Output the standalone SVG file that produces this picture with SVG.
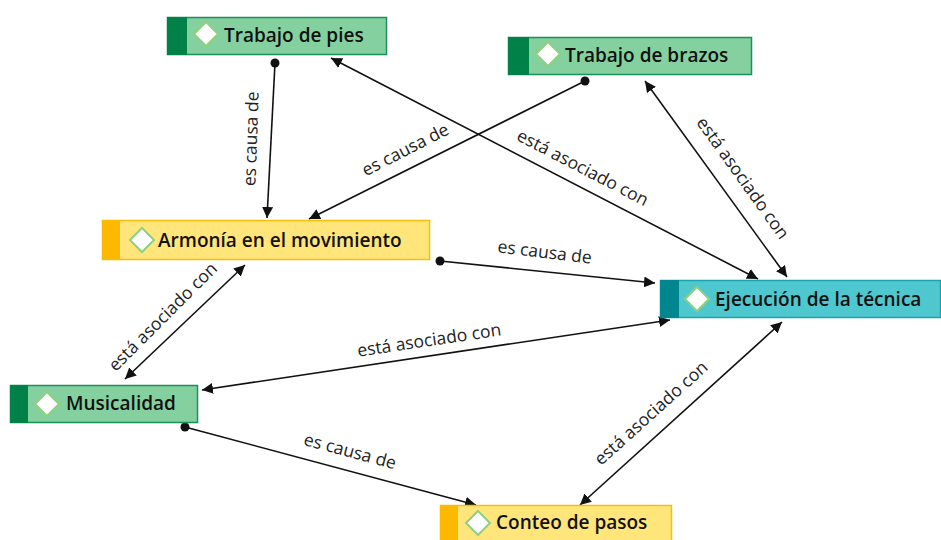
<svg xmlns="http://www.w3.org/2000/svg" width="941" height="540" viewBox="0 0 941 540">
<style>
.node text{font-family:"Open Sans","Noto Sans",sans-serif;font-weight:600;font-size:19px;fill:#111}
.lbl{font-family:"Open Sans","Noto Sans",sans-serif;font-size:17.5px;fill:#222}
.green .box{fill:#84d19f;stroke:#1b9159;stroke-width:1.5}
.green .strip{fill:#008148}
.yellow .box{fill:#ffe57a;stroke:#f7bf0c;stroke-width:1.5}
.yellow .strip{fill:#fdb900}
.cyan .box{fill:#4fc7cf;stroke:#1aa5ad;stroke-width:1.5}
.cyan .strip{fill:#00868e}
.dia{fill:#fff;stroke:#8ed080;stroke-width:2}
.edge{stroke:#111;stroke-width:1.6;fill:none}
</style>
<defs>
<marker id="arr" viewBox="0 0 10 10" refX="10" refY="5" markerWidth="11" markerHeight="11" markerUnits="userSpaceOnUse" orient="auto-start-reverse">
<path d="M0,0 L10,5 L0,10 z" fill="#111"/>
</marker>
<marker id="dot" viewBox="0 0 10 10" refX="5" refY="5" markerWidth="10" markerHeight="10" markerUnits="userSpaceOnUse">
<circle cx="5" cy="5" r="4.5" fill="#111"/>
</marker>
</defs>

<g id="connectors">
<line class="edge" x1="275" y1="63" x2="267" y2="218" marker-start="url(#dot)" marker-end="url(#arr)"/>
<text class="lbl" transform="translate(257,139) rotate(-88)" text-anchor="middle">es causa de</text>

<line class="edge" x1="585" y1="81" x2="309" y2="219" marker-start="url(#dot)" marker-end="url(#arr)"/>
<text class="lbl" transform="translate(408,155) rotate(-27)" text-anchor="middle">es causa de</text>

<line class="edge" x1="331" y1="58" x2="758" y2="279" marker-start="url(#arr)" marker-end="url(#arr)"/>
<text class="lbl" transform="translate(580,173) rotate(27.4)" text-anchor="middle">está asociado con</text>

<line class="edge" x1="645" y1="81" x2="787" y2="277" marker-start="url(#arr)" marker-end="url(#arr)"/>
<text class="lbl" transform="translate(738,181.5) rotate(54.5)" text-anchor="middle">está asociado con</text>

<line class="edge" x1="440" y1="261" x2="655" y2="283" marker-start="url(#dot)" marker-end="url(#arr)"/>
<text class="lbl" transform="translate(544,258) rotate(7)" text-anchor="middle">es causa de</text>

<line class="edge" x1="245" y1="265" x2="125" y2="379" marker-start="url(#arr)" marker-end="url(#arr)"/>
<text class="lbl" transform="translate(167,321) rotate(-45)" text-anchor="middle">está asociado con</text>

<line class="edge" x1="670" y1="320" x2="202" y2="390" marker-start="url(#arr)" marker-end="url(#arr)"/>
<text class="lbl" transform="translate(430,346) rotate(-8.5)" text-anchor="middle">está asociado con</text>

<line class="edge" x1="185" y1="427" x2="476" y2="505" marker-start="url(#dot)" marker-end="url(#arr)"/>
<text class="lbl" transform="translate(348.5,457) rotate(15)" text-anchor="middle">es causa de</text>

<line class="edge" x1="782" y1="322" x2="580" y2="505" marker-start="url(#arr)" marker-end="url(#arr)"/>
<text class="lbl" transform="translate(655,417.5) rotate(-42)" text-anchor="middle">está asociado con</text>
</g>

<g id="n-pies" class="node green">
<rect class="box" x="167.5" y="17.5" width="219" height="37"/>
<rect class="strip" x="167" y="17" width="20" height="38"/>
<path class="dia" d="M206,22 L218,34 L206,46 L194,34 z"/>
<text x="224" y="42">Trabajo de pies</text>
</g>

<g id="n-brazos" class="node green">
<rect class="box" x="508.5" y="37.5" width="243" height="37"/>
<rect class="strip" x="508" y="37" width="21" height="38"/>
<path class="dia" d="M548,42 L560,54 L548,66 L536,54 z"/>
<text x="565" y="62">Trabajo de brazos</text>
</g>

<g id="n-armonia" class="node yellow">
<rect class="box" x="102.5" y="220.5" width="327" height="39"/>
<rect class="strip" x="102" y="220" width="18" height="40"/>
<path class="dia" d="M142,228 L154,240 L142,252 L130,240 z"/>
<text x="158" y="247">Armonía en el movimiento</text>
</g>

<g id="n-ejecucion" class="node cyan">
<rect class="box" x="660.5" y="280.5" width="280" height="37"/>
<rect class="strip" x="660" y="280" width="19" height="38"/>
<path class="dia" d="M697,287 L709,299 L697,311 L685,299 z"/>
<text x="715" y="306">Ejecución de la técnica</text>
</g>

<g id="n-musicalidad" class="node green">
<rect class="box" x="10.5" y="385.5" width="187" height="37"/>
<rect class="strip" x="10" y="385" width="18" height="38"/>
<path class="dia" d="M47,392 L59,404 L47,416 L35,404 z"/>
<text x="66" y="410">Musicalidad</text>
</g>

<g id="n-conteo" class="node yellow">
<rect class="box" x="440.5" y="505.5" width="231" height="37"/>
<rect class="strip" x="440" y="505" width="18" height="38"/>
<path class="dia" d="M478,511 L490,523 L478,535 L466,523 z"/>
<text x="496" y="529">Conteo de pasos</text>
</g>
</svg>
